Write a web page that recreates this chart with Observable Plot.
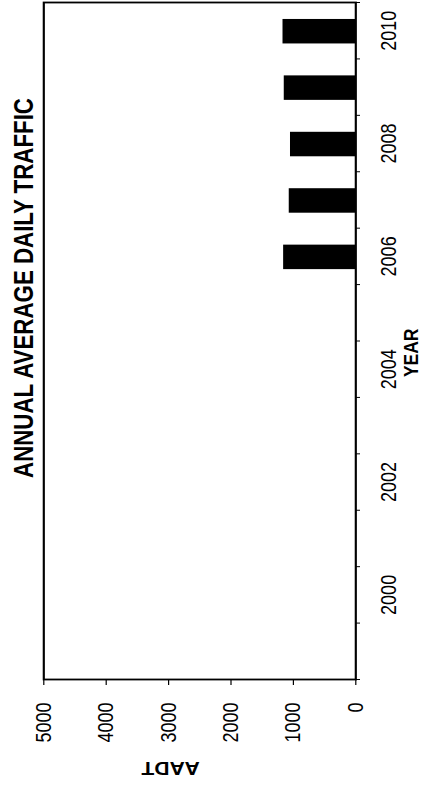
<!DOCTYPE html>
<html>
<head>
<meta charset="utf-8">
<script src="https://cdn.jsdelivr.net/npm/d3@7"></script>
<script src="https://cdn.jsdelivr.net/npm/@observablehq/plot@0.6"></script>
<style>
  html, body { margin: 0; padding: 0; background: white; overflow: hidden; width: 422px; height: 788px; }
  #chart { position: relative; width: 422px; height: 788px; }
  #chart svg { position: absolute; left: 0; top: 0; max-width: none !important; width: 788px !important; height: 352px !important; transform-origin: 0 0; transform: matrix(0, -1, 1.2, 0, 0, 788); }
</style>
</head>
<body>
<div id="chart"></div>
<script>
const title = "ANNUAL AVERAGE DAILY TRAFFIC";
const xLabel = "YEAR";
const yLabel = "AADT";
const years = [2006, 2007, 2008, 2009, 2010];
const aadt = [1155, 1065, 1045, 1145, 1165];
const yearTickLabels = [2000, 2002, 2004, 2006, 2008, 2010];
const aadtTicks = [0, 1000, 2000, 3000, 4000, 5000];

const data = years.map((year, i) => ({year, aadt: aadt[i]}));
const yearBounds = d3.range(1998.5, 2011, 1);
const halfBar = 0.217;
const font = "Liberation Sans, Arial, Helvetica, sans-serif";

const chart = Plot.plot({
  width: 788,
  height: 352,
  marginLeft: 108,
  marginRight: 3,
  marginTop: 36,
  marginBottom: 56,
  style: {fontFamily: font, background: "white", color: "black", overflow: "visible"},
  x: {type: "linear", domain: [1998.5, 2010.5], axis: null},
  y: {domain: [0, 5000], axis: null},
  marks: [
    Plot.rectY(data, {x1: d => d.year - halfBar, x2: d => d.year + halfBar, y: "aadt", fill: "black"}),
    Plot.axisX(yearBounds, {tickSize: 4, tickFormat: () => "", label: null, stroke: "black"}),
    Plot.axisX(yearTickLabels, {tickSize: 0, tickPadding: 21, tickFormat: d => String(d), fontSize: 18, label: null}),
    Plot.axisY(aadtTicks, {tickSize: 5, tickPadding: 18, tickFormat: d => String(d), fontSize: 18, label: null, stroke: "black"}),
    Plot.frame({stroke: "black", strokeWidth: 1.8}),
    Plot.text([title], {frameAnchor: "top", dx: 53, dy: -9.3, lineAnchor: "bottom", fontSize: 22.3, fontWeight: "bold", fill: "black"}),
    Plot.text([xLabel], {frameAnchor: "bottom", dx: -11.8, dy: 39.5, lineAnchor: "top", fontSize: 17.5, fontWeight: "bold", fill: "black"}),
    Plot.text([yLabel], {frameAnchor: "left", dx: -88, rotate: -90, lineAnchor: "middle", fontSize: 17.5, fontWeight: "bold", fill: "black"})
  ]
});
document.getElementById("chart").appendChild(chart);
</script>
</body>
</html>
